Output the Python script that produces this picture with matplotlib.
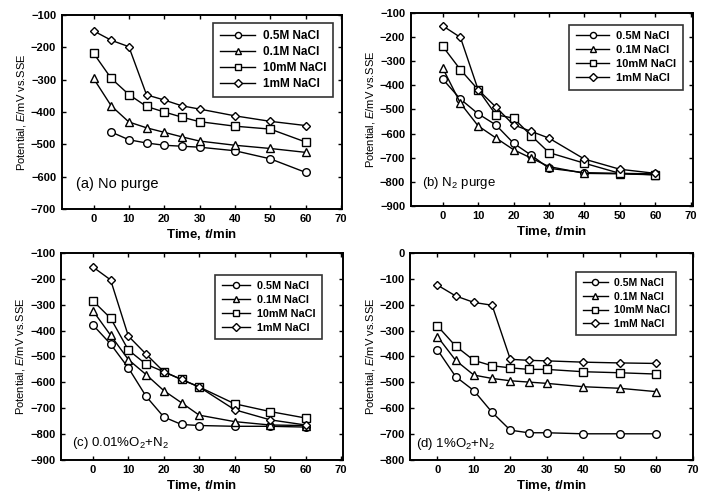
import matplotlib
matplotlib.use("Agg")
import matplotlib.pyplot as plt

plt.rcParams['font.family'] = ['Liberation Sans', 'DejaVu Sans']
plt.rcParams['mathtext.fontset'] = 'custom'
plt.rcParams['mathtext.it'] = 'Liberation Sans:italic'
plt.rcParams['mathtext.rm'] = 'Liberation Sans'
plt.rcParams['mathtext.sf'] = 'Liberation Sans:italic:bold'

labels = ["0.5M NaCl", "0.1M NaCl", "10mM NaCl", "1mM NaCl"]
markers = ["o", "^", "s", "D"]

t_full = [0, 5, 10, 15, 20, 25, 30, 40, 50, 60]
t_a05 = [5, 10, 15, 20, 25, 30, 40, 50, 60]

# (a) No purge
a_05M = [-462, -486, -496, -503, -506, -509, -520, -545, -587]
a_01M = [-296, -381, -431, -449, -463, -477, -490, -503, -513, -525]
a_10mM = [-218, -296, -346, -383, -400, -416, -430, -444, -453, -493]
a_1mM = [-149, -178, -198, -347, -363, -381, -391, -412, -429, -442]

# (b) N2 purge
b_05M = [-374, -457, -518, -564, -640, -690, -744, -762, -765, -767]
b_01M = [-328, -474, -568, -618, -667, -702, -737, -765, -767, -771]
b_10mM = [-238, -335, -418, -522, -536, -609, -679, -723, -765, -771]
b_1mM = [-153, -201, -418, -490, -564, -591, -619, -706, -748, -765]

# (c) 0.01% O2 + N2
c_05M = [-378, -452, -544, -654, -734, -763, -767, -770, -770, -773]
c_01M = [-323, -418, -512, -570, -632, -679, -727, -752, -765, -767]
c_10mM = [-285, -352, -475, -530, -559, -589, -618, -683, -713, -738]
c_1mM = [-154, -204, -421, -491, -559, -589, -618, -706, -745, -765]

# (d) 1% O2 + N2
d_05M = [-374, -478, -532, -616, -685, -695, -695, -699, -699, -699]
d_01M = [-323, -415, -472, -485, -494, -499, -504, -517, -523, -536]
d_10mM = [-282, -360, -415, -436, -444, -450, -450, -459, -463, -468]
d_1mM = [-124, -166, -191, -202, -411, -415, -417, -422, -425, -427]

# xs, ys, tag, ylim, axes rect, xlim, tag pos, tag size, legend anchor, legend font, handle len
panels = [
    ([t_a05, t_full, t_full, t_full], [a_05M, a_01M, a_10mM, a_1mM],
     "(a) No purge", (-700, -100), [0.088, 0.583, 0.400, 0.387], (-9, 70.3),
     (0.05, 0.13), 10.5, (0.968, 0.96), 8.5, 3.0),
    ([t_full] * 4, [b_05M, b_01M, b_10mM, b_1mM],
     "(b) N$_2$ purge", (-900, -100), [0.586, 0.589, 0.402, 0.385], (-9, 70.5),
     (0.04, 0.12), 9.5, (0.965, 0.94), 8, 3.0),
    ([t_full] * 4, [c_05M, c_01M, c_10mM, c_1mM],
     "(c) 0.01%O$_2$+N$_2$", (-900, -100), [0.087, 0.082, 0.402, 0.413], (-9, 70.5),
     (0.04, 0.08), 9.5, (0.925, 0.895), 7.8, 2.6),
    ([t_full] * 4, [d_05M, d_01M, d_10mM, d_1mM],
     "(d) 1%O$_2$+N$_2$", (-800, 0), [0.585, 0.082, 0.404, 0.413], (-7.5, 70.2),
     (0.02, 0.075), 9.5, (0.94, 0.91), 7.5, 2.4),
]

fig = plt.figure(figsize=(7.01, 5.01), dpi=100)

for xs, ys, tag, ylim, pos, xlim, tpos, tsize, lanchor, lsize, hlen in panels:
    ax = fig.add_axes(pos)
    for x, y, m, lab in zip(xs, ys, markers, labels):
        ms = 5.5 if m != "D" else 4.5
        ax.plot(x, y, color="black", lw=1.0, marker=m, ms=ms,
                mfc="white", mec="black", mew=1.0, label=lab)
    ax.set_xlim(*xlim)
    ax.set_ylim(*ylim)
    ax.set_xticks(range(0, 71, 10))
    ax.set_yticks(range(ylim[0], ylim[1] + 1, 100))
    ax.tick_params(direction="in", length=3, width=1, top=True, right=True,
                   labelsize=8, pad=4)
    for lbl in ax.get_xticklabels() + ax.get_yticklabels():
        lbl.set_fontweight("bold")
    for sp in ax.spines.values():
        sp.set_linewidth(1.4)
    ax.set_xlabel("Time, $\\mathsf{t}$/min", fontsize=9.5, fontweight="bold", labelpad=2)
    ax.set_ylabel("Potential, $E$/mV vs.SSE", fontsize=8, labelpad=2)
    ax.text(tpos[0], tpos[1], tag, transform=ax.transAxes, fontsize=tsize,
            ha="left", va="center")
    leg = ax.legend(loc="upper right", bbox_to_anchor=lanchor,
                    fontsize=lsize, frameon=True, fancybox=False,
                    handlelength=hlen, handletextpad=0.6, borderpad=0.6,
                    labelspacing=0.35, markerscale=0.8, borderaxespad=0)
    leg.get_frame().set_edgecolor("black")
    leg.get_frame().set_linewidth(1.2)
    for txt in leg.get_texts():
        txt.set_fontweight("bold")

fig.savefig("out.png", dpi=100)
